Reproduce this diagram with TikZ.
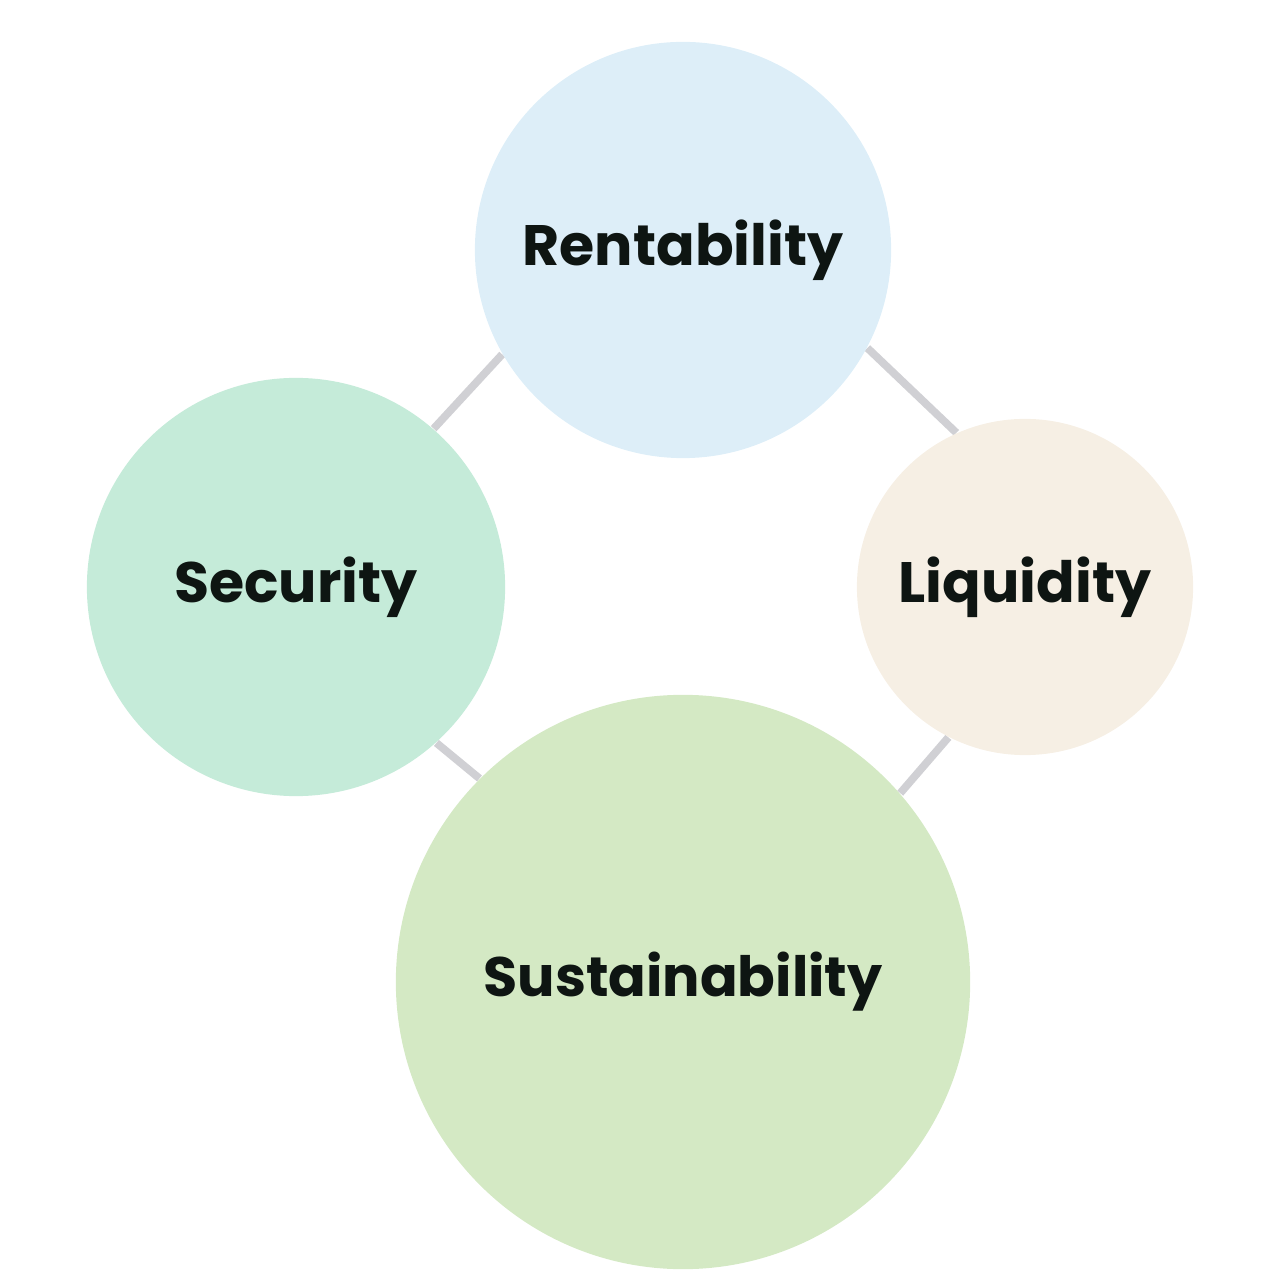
\documentclass[tikz,border=0pt]{standalone}
\usepackage{fontspec}
\setmainfont{Poppins}
\usetikzlibrary{backgrounds}
\definecolor{rentc}{HTML}{DDEEF8}
\definecolor{secc}{HTML}{C5EBD9}
\definecolor{liqc}{HTML}{F6EFE4}
\definecolor{susc}{HTML}{D4E9C4}
\definecolor{linkc}{HTML}{D0D0D4}
\definecolor{txtc}{HTML}{0E1512}
\tikzset{
  bubble/.style={circle, inner sep=0pt, draw=none, text=txtc, font=\fontsize{16.2}{20}\selectfont\bfseries},
  link/.style={draw=linkc, line width=2.2pt}
}
\newcommand{\lbl}[1]{\raisebox{-1pt}{#1}}
\begin{document}
\begin{tikzpicture}[x=0.01cm, y=-0.01cm]
\useasboundingbox (0,0) rectangle (1280,1280);
\node[bubble, fill=rentc, minimum size=4.16cm] (rent) at (683,250) {\lbl{Rentability}};
\node[bubble, fill=secc, minimum size=4.18cm] (sec) at (296,587) {\lbl{Security}};
\node[bubble, fill=liqc, minimum size=3.36cm] (liq) at (1025,587) {\lbl{Liquidity}};
\node[bubble, fill=susc, minimum size=5.74cm] (sus) at (683,982) {\lbl{\fontsize{15.8}{20}\selectfont Sustainability}};
\begin{pgfonlayer}{background}
\draw[link] (rent.210.6) -- (sec.49.5);
\draw[link] (rent.332) -- (liq.114.7);
\draw[link] (sec.312.3) -- (sus.135.8);
\draw[link] (liq.243.6) -- (sus.41.8);
\end{pgfonlayer}
\end{tikzpicture}
\end{document}
